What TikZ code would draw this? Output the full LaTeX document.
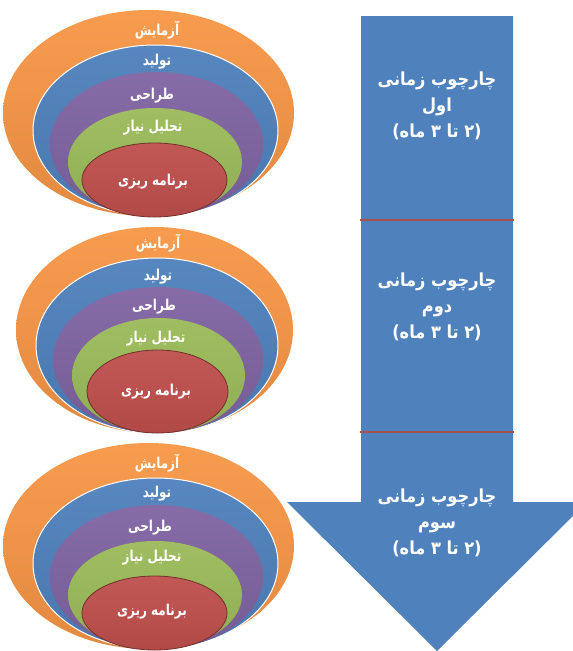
\documentclass[tikz,border=0pt]{standalone}
\usepackage{graphicx}
\usepackage{fontspec}
\newfontfamily\fa[Script=Arabic]{DejaVu Sans}
\TeXXeTstate=1
\newcommand\rtlsmall[1]{\scalebox{0.8}[1]{\beginR #1\endR}}
\newcommand\rtlbig[1]{\scalebox{0.9}[1]{\beginR #1\endR}}
\definecolor{cOrange}{HTML}{F79646}
\definecolor{cBlue}{HTML}{4F81BD}
\definecolor{cPurple}{HTML}{8064A2}
\definecolor{cGreen}{HTML}{9BBB59}
\definecolor{cRed}{HTML}{C0504D}
\definecolor{cDiv}{HTML}{A9504E}
\tikzset{
  orangeL/.style={top color=cOrange!95!white, bottom color=cOrange!92!black},
  blueL/.style={top color=cBlue!95!white, bottom color=cBlue!92!black, draw=white, line width=1pt},
  purpleL/.style={top color=cPurple!95!white, bottom color=cPurple!92!black},
  greenL/.style={top color=cGreen!95!white, bottom color=cGreen!92!black},
  redL/.style={top color=cRed!95!white, bottom color=cRed!92!black, draw=cRed!60!black, line width=0.8pt},
  lab/.style={text=white, font=\fa\bfseries\fontsize{15}{17}\selectfont, inner sep=0pt},
  arrlab/.style={text=white, font=\fa\bfseries\fontsize{18}{26}\selectfont, align=center, inner sep=0pt},
  divline/.style={draw=cDiv, line width=1.5pt}
}
\begin{document}
\begin{tikzpicture}[x=1pt,y=-1pt]
\useasboundingbox (0,0) rectangle (573,651);
\begin{scope}
\clip (0,0) rectangle (573,651);
% big arrow
\fill[cBlue] (361,16) -- (513,16) -- (513,502) -- (587,502) -- (437,651) -- (287,502) -- (361,502) -- cycle;
\coordinate (d1l) at (360,220); \coordinate (d1r) at (514,220);
\coordinate (d2l) at (360,432); \coordinate (d2r) at (514,432);
\draw[divline] (d1l) -- (d1r);
\draw[divline] (d2l) -- (d2r);
\node[arrlab] (t1) at (437,106) {\rtlbig{چارچوب زمانی}\\\rtlbig{اول}\\\rtlbig{(۲ تا ۳ ماه)}};
\node[arrlab] (t2) at (437,307) {\rtlbig{چارچوب زمانی}\\\rtlbig{دوم}\\\rtlbig{(۲ تا ۳ ماه)}};
\node[arrlab] (t3) at (437,523) {\rtlbig{چارچوب زمانی}\\\rtlbig{سوم}\\\rtlbig{(۲ تا ۳ ماه)}};

% set 1
\shade[orangeL] (148.5,113) ellipse [x radius=145.5, y radius=103];
\shade[blueL] (155.5,130.5) ellipse [x radius=122.5, y radius=85.5];
\shade[purpleL] (156.5,144) ellipse [x radius=106.5, y radius=72];
\shade[greenL] (155,162) ellipse [x radius=87, y radius=54];
\shade[redL] (154.5,180) ellipse [x radius=72.5, y radius=37];
\node[lab] (a1) at (157,30) {\rtlsmall{آزمایش}};
\node[lab] (b1) at (157,62) {\rtlsmall{تولید}};
\node[lab] (c1) at (152,96) {\rtlsmall{طراحی}};
\node[lab] (e1) at (153,128) {\rtlsmall{تحلیل نیاز}};
\node[lab] (f1) at (153,182) {\rtlsmall{برنامه ریزی}};

% set 2
\shade[orangeL] (154.5,330) ellipse [x radius=138.5, y radius=103];
\shade[blueL] (157,345.5) ellipse [x radius=121, y radius=87.5];
\shade[purpleL] (158,360) ellipse [x radius=105, y radius=73];
\shade[greenL] (158.5,375.5) ellipse [x radius=86.5, y radius=57.5];
\shade[redL] (157.5,391.5) ellipse [x radius=70.5, y radius=41.5];
\node[lab] (a2) at (158,243) {\rtlsmall{آزمایش}};
\node[lab] (b2) at (158,277) {\rtlsmall{تولید}};
\node[lab] (c2) at (154,307) {\rtlsmall{طراحی}};
\node[lab] (e2) at (156,339) {\rtlsmall{تحلیل نیاز}};
\node[lab] (f2) at (156,392) {\rtlsmall{برنامه ریزی}};

% set 3
\shade[orangeL] (148.5,546) ellipse [x radius=145.5, y radius=103];
\shade[blueL] (155.5,563.5) ellipse [x radius=122.5, y radius=85.5];
\shade[purpleL] (156.5,577) ellipse [x radius=106.5, y radius=72];
\shade[greenL] (155,595) ellipse [x radius=87, y radius=54];
\shade[redL] (154.5,613) ellipse [x radius=72.5, y radius=37];
\node[lab] (a3) at (157,463) {\rtlsmall{آزمایش}};
\node[lab] (b3) at (157,494) {\rtlsmall{تولید}};
\node[lab] (c3) at (150,528) {\rtlsmall{طراحی}};
\node[lab] (e3) at (152,558) {\rtlsmall{تحلیل نیاز}};
\node[lab] (f3) at (152,612) {\rtlsmall{برنامه ریزی}};
\end{scope}
\end{tikzpicture}
\end{document}
